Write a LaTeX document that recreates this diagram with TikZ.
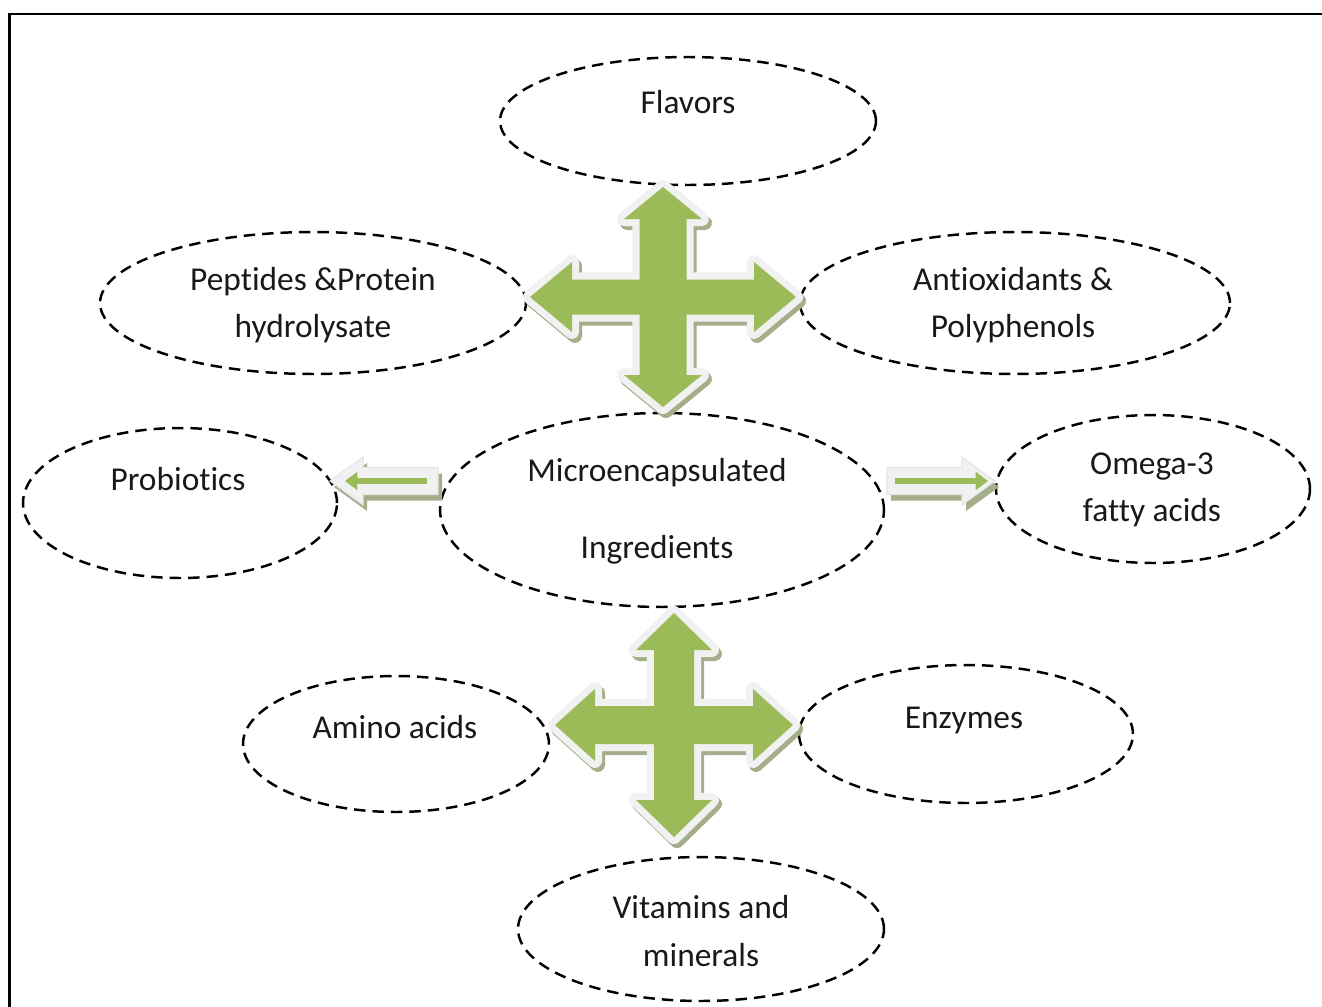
\documentclass[tikz,border=0pt]{standalone}
\usepackage{fontspec}
\setmainfont[Ligatures=NoCommon]{Carlito}
\usetikzlibrary{shapes,positioning,arrows.meta}
\definecolor{mcgreen}{RGB}{155,187,89}
\definecolor{mcshade}{RGB}{165,174,138}
\definecolor{mcedge}{RGB}{241,241,241}
\tikzstyle{blob} = [ellipse, draw, line width=1.4pt, dash pattern=on 6.5pt off 4pt, inner sep=0pt]
\tikzstyle{word} = [align=center, font=\fontsize{19}{27}\selectfont, text=black!90]
\tikzstyle{oneword} = [word, text height=0.65em, text depth=0.2em]
\tikzstyle{gline} = [line width=3.2pt, mcgreen, -{Triangle[length=7pt,width=10pt]}]

\begin{document}
\begin{tikzpicture}[x=0.02cm, y=-0.02cm]
\useasboundingbox (0,0) rectangle (1322,1007);

% Frame
\draw[line width=1.7pt] (9.5,1007) -- (9.5,14) -- (1322,14);

% Ingredients
\node[blob, minimum width=7.52cm, minimum height=2.56cm] (flav) at (688,121) {};
\node[blob, minimum width=8.52cm, minimum height=2.84cm] (pep) at (313,303) {};
\node[blob, minimum width=8.6cm, minimum height=2.84cm] (anti) at (1015,303) {};
\node[blob, minimum width=6.28cm, minimum height=3.0cm] (prob) at (180,503) {};
\node[blob, minimum width=8.88cm, minimum height=3.88cm] (micro) at (662,510) {};
\node[blob, minimum width=6.28cm, minimum height=2.96cm] (omega) at (1153,489) {};
\node[blob, minimum width=6.12cm, minimum height=2.72cm] (amino) at (396,744) {};
\node[blob, minimum width=6.68cm, minimum height=2.76cm] (enz) at (966,734) {};
\node[blob, minimum width=7.32cm, minimum height=2.88cm] (vit) at (701,929) {};

% Labels
\node[oneword] (flavT) at (688,110) {Flavors};
\node[word] (pepT) at (313,305) {Peptides \&Protein\\hydrolysate};
\node[word] (antiT) at (1013,305) {Antioxidants \&\\Polyphenols};
\node[oneword] (probT) at (178,487) {Probiotics};
\node[word] (microT) at (657,511) {Microencapsulated\\[17pt]Ingredients};
\node[word] (omegaT) at (1152,490) {Omega-3\\fatty acids};
\node[oneword] (aminoT) at (395,735) {Amino acids};
\node[oneword] (enzT) at (964,725) {Enzymes};
\node[word] (vitT) at (701,931) {Vitamins and\\minerals};

% Four-way arrows
\def\qshape{(0,-110) -- (39,-78) -- (23.5,-78) -- (23.5,-17.5) -- (91,-17.5) -- (91,-35) -- (133,0) -- (91,35) -- (91,17.5) -- (23.5,17.5) -- (23.5,78) -- (39,78) -- (0,110) -- (-39,78) -- (-23.5,78) -- (-23.5,17.5) -- (-91,17.5) -- (-91,35) -- (-133,0) -- (-91,-35) -- (-91,-17.5) -- (-23.5,-17.5) -- (-23.5,-78) -- (-39,-78) -- cycle}
\begin{scope}[shift={(663,297)}]
\path[fill=mcshade, draw=mcshade, line width=8pt, line join=round, shift={(3,4)}] \qshape;
\path[fill=mcedge, draw=mcedge, line width=8pt, line join=round] \qshape;
\fill[mcgreen] \qshape;
\end{scope}

\def\qshape{(0,-112) -- (38,-75) -- (20,-75) -- (20,-19) -- (79,-19) -- (79,-36) -- (119,0) -- (79,36) -- (79,19) -- (20,19) -- (20,75) -- (38,75) -- (0,112) -- (-38,75) -- (-20,75) -- (-20,19) -- (-79,19) -- (-79,36) -- (-119,0) -- (-79,-36) -- (-79,-19) -- (-20,-19) -- (-20,-75) -- (-38,-75) -- cycle}
\begin{scope}[shift={(674,725)}]
\path[fill=mcshade, draw=mcshade, line width=8pt, line join=round, shift={(3,4)}] \qshape;
\path[fill=mcedge, draw=mcedge, line width=8pt, line join=round] \qshape;
\fill[mcgreen] \qshape;
\end{scope}

% Side arrows
\def\bshape{(0,0) -- (33,-24) -- (33,-13.5) -- (108,-13.5) -- (108,13.5) -- (33,13.5) -- (33,24) -- cycle}
\begin{scope}[shift={(330,481)}]
\path[fill=mcshade, shift={(4,6)}] \bshape;
\path[fill=mcedge, draw=black!10, line width=0.6pt] \bshape;
\end{scope}
\begin{scope}[shift={(995,481)}, xscale=-1]
\path[fill=mcshade, shift={(-4,6)}] \bshape;
\path[fill=mcedge, draw=black!10, line width=0.6pt] \bshape;
\end{scope}

\coordinate (pa) at (427,481);
\coordinate (pb) at (345,481);
\coordinate (oa) at (895,481);
\coordinate (ob) at (988,481);
\draw[gline] (pa) -- (pb);
\draw[gline] (oa) -- (ob);
\end{tikzpicture}
\end{document}
